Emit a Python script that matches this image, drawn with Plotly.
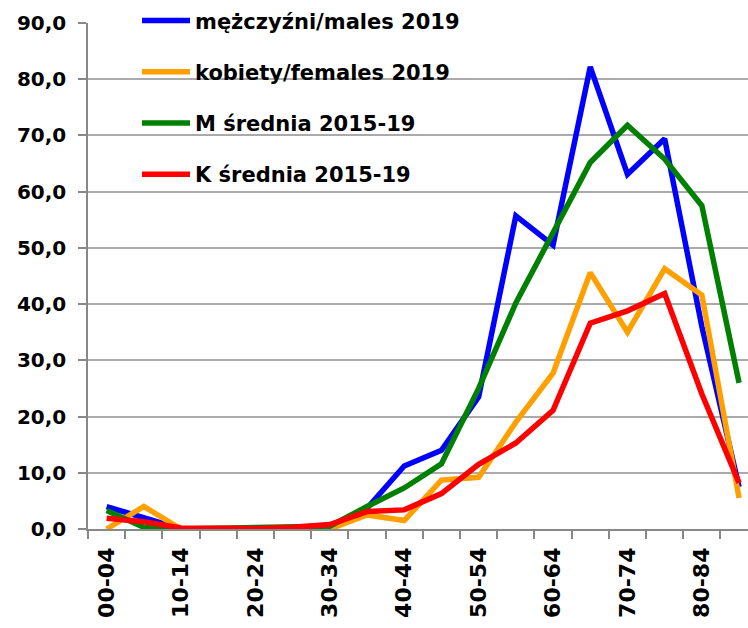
import plotly.graph_objects as go

AGE_GROUPS = ["00-04", "05-09", "10-14", "15-19", "20-24", "25-29", "30-34",
              "35-39", "40-44", "45-49", "50-54", "55-59", "60-64", "65-69",
              "70-74", "75-79", "80-84", "85+"]

MALES_2019 = [4.0, 2.0, 0.0, 0.0, 0.0, 0.0, 0.5, 3.7, 11.2, 14.0, 23.5, 55.7,
              50.5, 82.2, 63.1, 69.4, 36.0, 7.5]
FEMALES_2019 = [0.0, 4.0, 0.0, 0.0, 0.0, 0.0, 0.0, 2.5, 1.5, 8.7, 9.2, 19.0,
                27.7, 45.6, 35.0, 46.3, 41.6, 5.5]
M_AVG_2015_19 = [3.3, 0.3, 0.0, 0.1, 0.3, 0.2, 0.5, 4.0, 7.3, 11.6, 25.0, 40.2,
                 52.5, 65.2, 71.8, 65.8, 57.5, 26.0]
K_AVG_2015_19 = [1.9, 1.3, 0.2, 0.1, 0.1, 0.3, 0.8, 3.1, 3.4, 6.3, 11.5, 15.3,
                 21.1, 36.6, 38.8, 41.9, 24.0, 8.2]

SERIES = [
    ("mężczyźni/males 2019", MALES_2019, "#0000FF"),
    ("kobiety/females 2019", FEMALES_2019, "#FFA000"),
    ("M średnia 2015-19", M_AVG_2015_19, "#008000"),
    ("K średnia 2015-19", K_AVG_2015_19, "#FF0000"),
]


def bold_font(size):
    return dict(family="DejaVu Sans", size=size, color="black", weight="bold")


fig = go.Figure()
for name, values, color in SERIES:
    fig.add_trace(go.Scatter(
        x=AGE_GROUPS, y=values, name=name, mode="lines",
        line=dict(color=color, width=5.5),
        legendgroup=name,
    ))

# white panel behind the legend, hiding the upper gridlines there
fig.add_shape(type="rect", xref="paper", yref="paper",
              x0=26 / 660, x1=419 / 660, y0=(529 - 215) / 506, y1=1.06,
              fillcolor="white", line=dict(width=0), layer="between")

fig.update_layout(
    width=748, height=628,
    margin=dict(l=88, r=0, t=23, b=99),
    paper_bgcolor="white", plot_bgcolor="white",
    font=bold_font(21),
    separators=", ",
    showlegend=True,
    legend=dict(
        x=49 / 660, xanchor="left", y=1.045, yanchor="top",
        bgcolor="rgba(0,0,0,0)", borderwidth=0,
        font=bold_font(21), itemwidth=48, tracegroupgap=21,
    ),
    xaxis=dict(
        type="category",
        range=[-0.5, 17.24],
        tickson="boundaries",
        ticklabelstep=2,
        ticks="outside", ticklen=8, tickcolor="#888888", tickwidth=1.5,
        tickangle=-90,
        ticklabelstandoff=8,
        showline=True, linecolor="#888888", linewidth=1.5,
        showgrid=False, zeroline=False,
        tickfont=bold_font(22),
    ),
    yaxis=dict(
        range=[0, 90], dtick=10, tickformat=".1f",
        ticks="outside", ticklen=8, tickcolor="#888888", tickwidth=1.5,
        ticklabelstandoff=8,
        showline=True, linecolor="#888888", linewidth=1.5,
        showgrid=True, gridcolor="#AAAAAA", gridwidth=1.5,
        zeroline=False,
        tickfont=bold_font(20),
    ),
)

fig.write_html("out.html")
